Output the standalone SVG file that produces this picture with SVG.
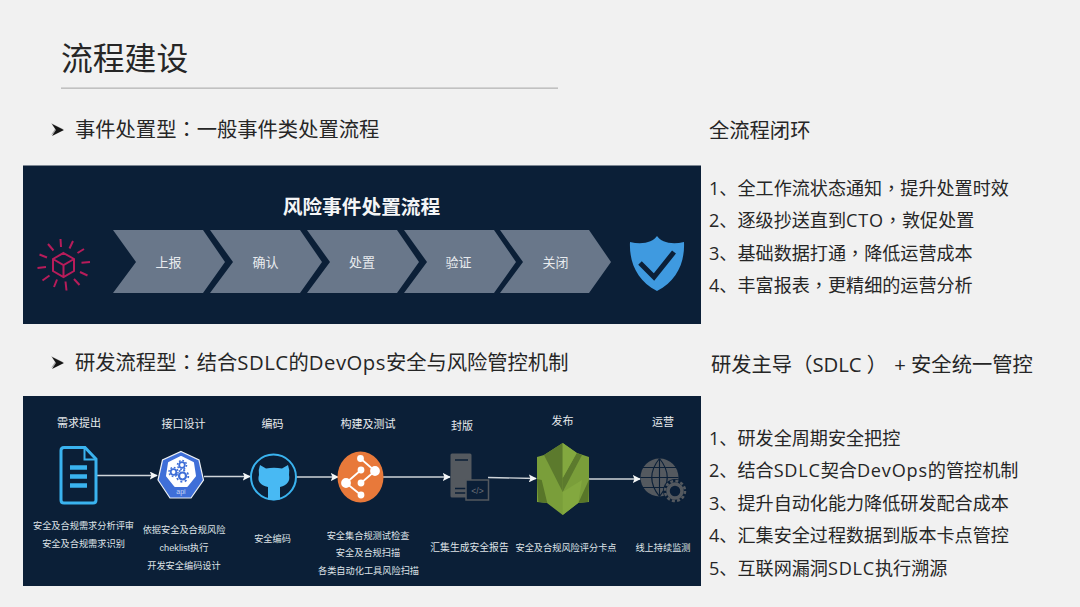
<svg xmlns="http://www.w3.org/2000/svg" width="1080" height="607" viewBox="0 0 1080 607">
<style>
text{font-family:"Liberation Sans","Noto Sans CJK SC",sans-serif;}
.cjk{font-family:"Open Sans","Noto Sans CJK SC",sans-serif;}
.p{font-family:"Noto Sans CJK TC",sans-serif;}
.lt{letter-spacing:.5px;}
.lb{letter-spacing:.8px;}
.h{font-size:20.3px;fill:#262626;}
.b{font-size:18.1px;fill:#262626;}
.w{fill:#e8ebee;text-anchor:middle;font-size:13px;}
.n{fill:#e8ebee;text-anchor:middle;font-size:11px;}
.s{fill:#dfe3e7;text-anchor:middle;font-size:9.2px;}
.c{fill:#69778a;}
.l{stroke:#cfd4d9;stroke-width:1.4;fill:none;marker-end:url(#a);}
.sp{stroke:#b71c5a;stroke-width:2;fill:none;stroke-linecap:butt;}
</style>
<defs>
<marker id="a" viewBox="0 0 10 10" refX="9" refY="5" markerWidth="8" markerHeight="8" markerUnits="userSpaceOnUse" orient="auto"><path d="M0 0L10 5L0 10L2 5Z" fill="#f4f6f7"/></marker>
<g id="bullet"><path d="M51 123L63 129L51 135L55 129Z" fill="#a8a8a8"/><path d="M52 124L64 130L52 136L56 130Z" fill="#151515"/></g>
</defs>
<rect width="1080" height="607" fill="#f1f1f1"/>
<g id="title">
<text x="61" y="70" class="cjk" font-size="31.800" fill="#262626">流程建设</text>
<rect x="61" y="87.500" width="497" height="1.300" fill="#b5b5b5"/>
</g>
<g id="heading-1">
<use href="#bullet"/>
<text x="75" y="137" class="cjk h">事件处置型<tspan class="p">：</tspan>一般事件类处置流程</text>
</g>
<g id="heading-2">
<use href="#bullet" y="233"/>
<text x="75" y="370" class="cjk h">研发流程型<tspan class="p">：</tspan>结合<tspan class="lt">SDLC</tspan>的<tspan class="lt">DevOps</tspan>安全与风险管控机制</text>
</g>
<g id="panel-1">
<rect x="23" y="165.500" width="678" height="158.500" fill="#0b1f37"/>
<text x="361.500" y="214" text-anchor="middle" font-size="19.700" font-weight="700" fill="#f4f5f6">风险事件处置流程</text>
</g>
<g id="risk-icon">
<path d="M63.500 253L74 259V271L63.500 277L53 271V259ZM53 259L63.500 265L74 259M63.500 265V277" class="sp"/>
<path d="M60.500 239L61 247M73 241L69.500 248.500M84 249L77.500 253M90 262L81.500 262.800M87.500 275.500L80 272M79.500 285L74 279M66.500 290.500L65.500 281.500M54 287L57 279.500M42.500 280.500L49.500 275.500M37.500 268L46 267M39.500 254.500L47 257.500M48 244L53.500 250.500" class="sp"/>
</g>
<g id="step-report"><path class="c" d="M113 230H203L225 262L203 293H113L136 262Z"/><text x="168.500" y="267" class="w">上报</text></g>
<g id="step-confirm"><path class="c" d="M210 230H300L322 262L300 293H210L233 262Z"/><text x="265.500" y="267" class="w">确认</text></g>
<g id="step-handle"><path class="c" d="M307 230H397L419 262L397 293H307L330 262Z"/><text x="362" y="267" class="w">处置</text></g>
<g id="step-verify"><path class="c" d="M404 230H494L516 262L494 293H404L427 262Z"/><text x="458.500" y="267" class="w">验证</text></g>
<g id="step-close"><path class="c" d="M500 230H589L611 262L589 293H500L523 262Z"/><text x="555.500" y="267" class="w">关闭</text></g>
<g id="shield">
<path d="M657 236C661 242 671 245 684 242C685 262 677 281 657 291C637 281 629 262 630 242C643 245 653 242 657 236Z" fill="#3f9ae0"/>
<path d="M640 263L654 277L674 252" fill="none" stroke="#0b1f37" stroke-width="5"/>
</g>
<g id="panel-2"><rect x="23" y="396" width="678" height="190" fill="#0b1f37"/></g>
<g id="connectors">
<path class="l" d="M97 475.500H157"/>
<path class="l" d="M204 476.500H250"/>
<path class="l" d="M296 477H338"/>
<path class="l" d="M383 477H450"/>
<path class="l" d="M488 477.500L536 478.500"/>
<path class="l" d="M589 479H640"/>
</g>
<g id="node-req">
<text x="79" y="427" class="n">需求提出</text>
<path d="M64 447.500H85L96 459V500Q96 503 93 503H64Q61 503 61 500V450.500Q61 447.500 64 447.500Z" fill="#0b1f37" stroke="#3ab3ef" stroke-width="3"/>
<path d="M84.500 447.500V459.500H96" fill="none" stroke="#3ab3ef" stroke-width="2"/>
<path d="M70 467.500H87M70 476.500H87M70 485.500H87" stroke="#3ab3ef" stroke-width="4.500"/>
<text x="83.500" y="529" class="s">安全及合规需求分析评审</text>
<text x="83.500" y="547" class="s">安全及合规需求识别</text>
</g>
<g id="node-api">
<text x="183.500" y="428" class="n">接口设计</text>
<path d="M181 451.500L199 460L203.500 480L191 498H170L158 480L162.500 460Z" fill="#3f6fd8" stroke="#eef1f4" stroke-width="1.200"/>
<path d="M181 457L193 463L195 476L187 486H175L167 476L169 463Z" fill="#fff" stroke="#fff" stroke-width="2" stroke-linejoin="round"/>
<g fill="none" stroke="#3f6fd8">
<circle cx="173.500" cy="472" r="2.800" stroke-width="1.800"/>
<circle cx="173.500" cy="472" r="4.500" stroke-width="1.500" stroke-dasharray="1.700 1.800"/>
<circle cx="182" cy="465" r="2.800" stroke-width="1.800"/>
<circle cx="182" cy="465" r="4.500" stroke-width="1.500" stroke-dasharray="1.700 1.800"/>
<circle cx="182.500" cy="476" r="3.500" stroke-width="2.200"/>
<circle cx="182.500" cy="476" r="5.800" stroke-width="1.800" stroke-dasharray="2 2.550"/>
</g>
<text x="181" y="493.500" text-anchor="middle" font-size="7" fill="#c6d4f2">api</text>
<text x="184" y="533" class="s">依据安全及合规风险</text>
<text x="184" y="551" class="s">cheklist执行</text>
<text x="184" y="569" class="s">开发安全编码设计</text>
</g>
<g id="node-code">
<text x="272.500" y="428" class="n">编码</text>
<circle cx="273.500" cy="477" r="22.500" fill="#0b1f37" stroke="#3ab3ef" stroke-width="2"/>
<path d="M260 465L266 468.500Q274 467 282 468.500L288 465Q290 470 289 475Q291 484 280 487V499.500Q274 501 268 499.500V487Q256 484 259 475Q258 470 260 465Z" fill="#48b9f3"/>
<text x="272.500" y="542" class="s">安全编码</text>
</g>
<g id="node-build">
<text x="368" y="428" class="n">构建及测试</text>
<ellipse cx="360.500" cy="477" rx="23" ry="25.500" fill="#e8793a"/>
<g stroke="#fff" stroke-width="1.800" fill="#fff">
<path d="M360.500 458.500L375 471L361 483M346 483L361 470M346 483L361 495" fill="none"/>
<circle cx="360.500" cy="458.500" r="2.500"/><circle cx="375" cy="471" r="4"/><circle cx="361" cy="483" r="2.500"/><circle cx="346" cy="483" r="4"/><circle cx="361" cy="470" r="2.500"/><circle cx="361" cy="495" r="2.500"/>
</g>
<text x="368" y="539" class="s">安全集合规测试检查</text>
<text x="368" y="556" class="s">安全及合规扫描</text>
<text x="368.500" y="574" class="s">各类自动化工具风险扫描</text>
</g>
<g id="node-seal">
<text x="462" y="430" class="n">封版</text>
<rect x="450.500" y="453.500" width="21" height="44" rx="1.500" fill="#54595f"/>
<path d="M455 460H468M455 488.500H468M455 493H468" stroke="#0b1f37" stroke-width="1.500"/>
<rect x="466" y="480" width="22.500" height="20" fill="#0b1f37" stroke="#54595f" stroke-width="1.500"/>
<text x="477.500" y="494" text-anchor="middle" font-size="8.500" fill="#6c7178">&lt;/&gt;</text>
<text x="469.500" y="551" class="s" style="font-size:9.800px">汇集生成安全报告</text>
</g>
<g id="node-release">
<text x="562.500" y="425" class="n">发布</text>
<path d="M562.700 443L577 453L589 457V502L578 503L562.700 515L547 503L537 502V457L544 455Z" fill="#7a9e3a"/>
<path d="M544 455L562.700 443V492Z" fill="#5c7a2d"/>
<path d="M576.700 453L582 455L562.700 492V478Z" fill="#5c7a2d"/>
<path d="M537 479L541.700 480L547.300 503L538.300 501.700ZM589.300 479L588.300 501.700L578.300 503Z" fill="#587629"/>
<path d="M562.700 443L576.700 453L562.700 478ZM562.700 492V515L578.300 503L582 480Z" fill="#83a83f"/>
<text x="566" y="551" class="s">安全及合规风险评分卡点</text>
</g>
<g id="node-ops">
<text x="663" y="426" class="n">运营</text>
<circle cx="659.500" cy="477.500" r="19" fill="#54595f"/>
<path d="M640.500 477.500H678.500M643 467.500H676M643 487.500H676M659.500 458.500V496.500M659.500 458.500Q644 477.500 659.500 496.500M659.500 458.500Q675 477.500 659.500 496.500" fill="none" stroke="#0b1f37" stroke-width="1.100"/>
<circle cx="675" cy="491" r="12" fill="#0b1f37"/>
<circle cx="675" cy="491" r="7" fill="none" stroke="#54595f" stroke-width="3.500"/>
<circle cx="675" cy="491" r="10" fill="none" stroke="#54595f" stroke-width="2.500" stroke-dasharray="3 2.240"/>
<text x="663" y="551" class="s">线上持续监测</text>
</g>
<g id="right-1">
<text x="709" y="138" class="cjk h">全流程闭环</text>
<text x="709" y="195" class="cjk b">1、全工作流状态通知<tspan class="p">，</tspan>提升处置时效</text>
<text x="709" y="227" class="cjk b">2、逐级抄送直到<tspan class="lb">CTO</tspan><tspan class="p">，</tspan>敦促处置</text>
<text x="709" y="260" class="cjk b">3、基础数据打通<tspan class="p">，</tspan>降低运营成本</text>
<text x="709" y="292" class="cjk b">4、丰富报表<tspan class="p">，</tspan>更精细的运营分析</text>
</g>
<g id="right-2">
<text x="711" y="372" class="cjk h">研发主导<tspan class="p">（</tspan>SDLC<tspan class="p" dx="5">）</tspan><tspan dx="2"> + </tspan>安全统一管控</text>
<text x="709" y="445" class="cjk b">1、研发全周期安全把控</text>
<text x="709" y="477" class="cjk b">2、结合<tspan class="lb">SDLC</tspan>契合<tspan class="lb">DevOps</tspan>的管控机制</text>
<text x="709" y="510" class="cjk b">3、提升自动化能力降低研发配合成本</text>
<text x="709" y="542" class="cjk b">4、汇集安全过程数据到版本卡点管控</text>
<text x="709" y="575" class="cjk b">5、互联网漏洞<tspan class="lb">SDLC</tspan>执行溯源</text>
</g>
</svg>
